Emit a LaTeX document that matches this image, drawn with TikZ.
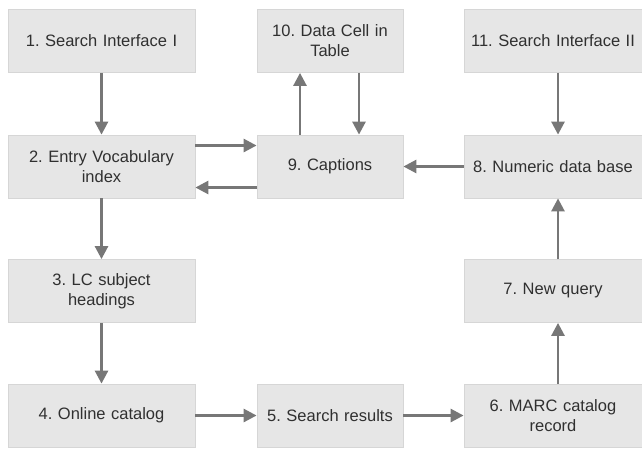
\documentclass[tikz,border=0pt]{standalone}
\usepackage{fontspec}
\setmainfont{Liberation Sans}
\usetikzlibrary{arrows.meta}
\definecolor{boxfill}{HTML}{E6E6E6}
\definecolor{boxline}{HTML}{D6D6D6}
\definecolor{arrcol}{HTML}{777777}
\definecolor{txtcol}{HTML}{303030}
\frenchspacing
\begin{document}
\begin{tikzpicture}[x=1pt,y=-1pt,
  box/.style={draw=boxline,line width=0.8pt,fill=boxfill,inner sep=0pt,align=center,
    text=txtcol,font=\fontsize{16.5}{20}\selectfont\frenchspacing},
  wbox/.style={box,minimum width=187pt,minimum height=63pt,text width=180pt},
  nbox/.style={box,minimum width=146pt,minimum height=63pt,text width=140pt},
  rbox/.style={box,minimum width=178pt,minimum height=63pt,text width=176pt},
  arr/.style={draw=arrcol,line width=2.7pt,-{Triangle[length=13pt,width=13pt]}}]
\useasboundingbox (0,0) rectangle (642,472);
\node[wbox] (b1) at (101.5,41) {1. Search Interface I};
\node[nbox] (b10) at (330,41) {10. Data Cell in\\Table};
\node[rbox] (b11) at (553,41) {11. Search Interface II};
\node[wbox] (b2) at (101.5,166.5) {2. Entry Vocabulary\\index};
\node[nbox] (b9) at (330,166.5) {9. Captions};
\node[rbox] (b8) at (553,166.5) {8. Numeric data base};
\node[wbox] (b3) at (101.5,291) {3. LC subject\\headings};
\node[rbox] (b7) at (553,291) {7. New query};
\node[wbox] (b4) at (101.5,415.5) {4. Online catalog};
\node[nbox] (b5) at (330,415.5) {5. Search results};
\node[rbox] (b6) at (553,415.5) {6. MARC catalog\\record};
\draw[arr] (b1.south) -- (b2.north);
\draw[arr] ([yshift=21pt]b2.east) -- ([yshift=21pt]b9.west);
\draw[arr] ([yshift=-21pt]b9.west) -- ([yshift=-21pt]b2.east);
\draw[arr] ([xshift=-30pt]b9.north) -- ([xshift=-30pt]b10.south);
\draw[arr] ([xshift=29pt]b10.south) -- ([xshift=29pt]b9.north);
\draw[arr] ([xshift=5pt]b11.south) -- ([xshift=5pt]b8.north);
\draw[arr] (b8.west) -- (b9.east);
\draw[arr] ([xshift=5pt]b7.north) -- ([xshift=5pt]b8.south);
\draw[arr] ([xshift=5pt]b6.north) -- ([xshift=5pt]b7.south);
\draw[arr] (b2.south) -- (b3.north);
\draw[arr] (b3.south) -- (b4.north);
\draw[arr] (b4.east) -- (b5.west);
\draw[arr] (b5.east) -- (b6.west);
\end{tikzpicture}
\end{document}
